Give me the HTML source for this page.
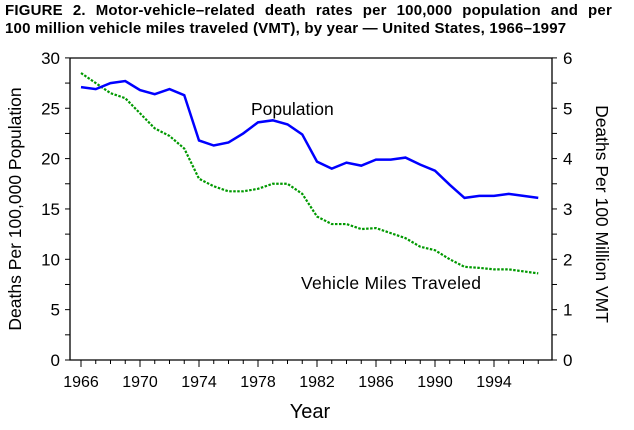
<!DOCTYPE html>
<html><head><meta charset="utf-8"><style>
body{margin:0;background:#fff;width:634px;height:430px;overflow:hidden}
.t{position:absolute;left:5px;top:2px;width:607px;font:bold 15px "Liberation Sans",sans-serif;line-height:18px;color:#000;letter-spacing:0.2px;white-space:nowrap}
.l1{text-align:justify;text-align-last:justify}
</style></head><body>
<div class="t"><div class="l1">FIGURE 2. Motor-vehicle–related death rates per 100,000 population and per</div><div>100 million vehicle miles traveled (VMT), by year — United States, 1966–1997</div></div>
<svg id="s" width="634" height="430" style="position:absolute;left:0;top:0" font-family="Liberation Sans, sans-serif"></svg>
<script>
var s=document.getElementById('s'),h='';
function X(y){return 81+(y-1966)*14.75}
function Y(v){return 360-v*10.07}
h+='<polyline points="70,58 70,360 552,360 552,58 70,58" fill="none" stroke="#000" stroke-width="1.3"/>';
for(var v=0;v<=30;v+=2.5){var y=Y(v);h+='<line x1="65" x2="70" y1="'+y+'" y2="'+y+'" stroke="#000"/>';h+='<line x1="552" x2="557" y1="'+y+'" y2="'+y+'" stroke="#000"/>';
if(v%5==0){h+='<text x="60" y="'+(y+6)+'" font-size="17" text-anchor="end">'+v+'</text>';h+='<text x="563" y="'+(y+6)+'" font-size="17">'+(v/5)+'</text>';}}
for(var yr=1966;yr<=1997;yr++){var x=X(yr);h+='<line x1="'+x+'" x2="'+x+'" y1="360" y2="'+((yr-1966)%4==0?367:364)+'" stroke="#000"/>';
if((yr-1966)%4==0)h+='<text x="'+x+'" y="387" font-size="16" text-anchor="middle">'+yr+'</text>';}
var P=[27.1,26.9,27.5,27.7,26.8,26.4,26.9,26.3,21.8,21.3,21.6,22.5,23.6,23.8,23.4,22.4,19.7,19.0,19.6,19.3,19.9,19.9,20.1,19.4,18.8,17.4,16.1,16.3,16.3,16.5,16.3,16.1];
var V=[5.7,5.5,5.3,5.2,4.9,4.6,4.45,4.2,3.6,3.45,3.35,3.35,3.4,3.5,3.5,3.3,2.85,2.7,2.7,2.6,2.62,2.52,2.42,2.25,2.18,2.0,1.85,1.83,1.8,1.8,1.76,1.72];
function pl(a,m){return a.map(function(v,i){return X(1966+i)+','+Y(v*m)}).join(' ')}
h+='<polyline points="'+pl(V,5)+'" fill="none" stroke="#009900" stroke-width="2.2" stroke-dasharray="2.5,1.5"/>';
h+='<polyline points="'+pl(P,1)+'" fill="none" stroke="#0000ff" stroke-width="2.5"/>';
h+='<text x="251" y="115" font-size="17.5">Population</text>';
h+='<text x="301" y="289" font-size="17.5" textLength="180">Vehicle Miles Traveled</text>';
h+='<text x="310" y="418" font-size="20" text-anchor="middle">Year</text>';
h+='<text transform="translate(21,209) rotate(-90)" font-size="17.5" text-anchor="middle">Deaths Per 100,000 Population</text>';
h+='<text transform="translate(596,214) rotate(90)" font-size="17.5" text-anchor="middle">Deaths Per 100 Million VMT</text>';
s.innerHTML=h;
</script>
</body></html>
